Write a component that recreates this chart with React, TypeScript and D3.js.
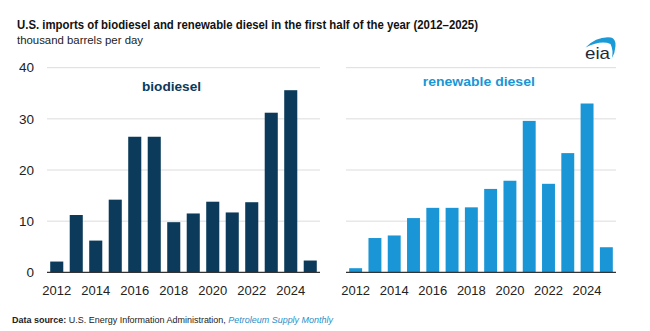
import React from "react";
import * as d3 from "d3";

const years = [2012, 2013, 2014, 2015, 2016, 2017, 2018, 2019, 2020, 2021, 2022, 2023, 2024, 2025];
const biodiesel = [2.1, 11.2, 6.2, 14.2, 26.5, 26.5, 9.8, 11.5, 13.8, 11.7, 13.7, 31.2, 35.6, 2.3];
const renewable = [0.8, 6.7, 7.2, 10.6, 12.6, 12.6, 12.7, 16.3, 17.9, 29.6, 17.3, 23.3, 33.0, 4.9];
const yTicks = [0, 10, 20, 30, 40];
const xTickYears = [2012, 2014, 2016, 2018, 2020, 2022, 2024];

const W = 650;
const H = 331;
const FONT = "'Liberation Sans', Arial, sans-serif";

function Panel({ values, range, color, label, labelX, labelY, labelW, showY }) {
  const y = d3.scaleLinear().domain([0, 40]).range([272.3, 67.7]);
  const x = d3.scaleBand().domain(years.map(String)).range(range).paddingInner(0.33).paddingOuter(0.165);
  return (
    <g>
      {yTicks.filter((t) => t > 0).map((t) => (
        <line key={t} x1={range[0]} x2={range[1]} y1={y(t)} y2={y(t)} stroke="#dcdcdc" strokeWidth={1} />
      ))}
      {showY &&
        yTicks.map((t) => (
          <text key={"yt" + t} x={34} y={y(t)} dy="0.35em" textAnchor="end" fontSize={13.5} fill="#222" fontFamily={FONT}>
            {t}
          </text>
        ))}
      {years.map((yr, i) => (
        <rect key={yr} x={x(String(yr))} width={x.bandwidth()} y={y(values[i])} height={y(0) - y(values[i])} fill={color} />
      ))}
      <line x1={range[0]} x2={range[1]} y1={y(0)} y2={y(0)} stroke="#333" strokeWidth={1.2} />
      {xTickYears.map((yr) => (
        <text key={"xt" + yr} x={x(String(yr)) + x.bandwidth() / 2} y={294.5} textAnchor="middle" fontSize={13} fill="#222" fontFamily={FONT}>
          {yr}
        </text>
      ))}
      <text x={labelX} y={labelY} textAnchor="middle" fontSize={12} fontWeight="bold" fill={color} fontFamily={FONT} textLength={labelW} lengthAdjust="spacingAndGlyphs">
        {label}
      </text>
    </g>
  );
}

export default function App() {
  return (
    <svg width={W} height={H} style={{ position: "absolute", left: 0, top: 0, background: "#fff" }}>
      <rect width={W} height={H} fill="#fff" />
      <text x={17} y={29.3} fontSize={13} fontWeight="bold" fill="#111" fontFamily={FONT} textLength={461} lengthAdjust="spacingAndGlyphs">
        U.S. imports of biodiesel and renewable diesel in the first half of the year (2012–2025)
      </text>
      <text x={17} y={44.3} fontSize={11.5} fill="#222" fontFamily={FONT} textLength={126} lengthAdjust="spacingAndGlyphs">
        thousand barrels per day
      </text>
      <g>
        <path d="M585.5,47.5 Q597,36 611,37.5 Q616,39 615.5,46 Q615,53 612,58 Q613.5,50 610.5,44 Q601,40 585.5,47.5 Z" fill="#1a9ad6" />
        <text x={585} y={58.5} fontSize={17} fill="#1c2b39" fontFamily={FONT} textLength={25} lengthAdjust="spacingAndGlyphs">eia</text>
      </g>
      <Panel values={biodiesel} range={[47, 320]} color="#0b3a5a" label="biodiesel" labelX={171.5} labelY={90.7} labelW={59} showY={true} />
      <Panel values={renewable} range={[346, 616]} color="#1a96d6" label="renewable diesel" labelX={478.8} labelY={86} labelW={112} showY={false} />
      <text x={12} y={323} fontSize={9} fill="#222" fontFamily={FONT} textLength={321} lengthAdjust="spacingAndGlyphs">
        <tspan fontWeight="bold">Data source:</tspan>
        <tspan> U.S. Energy Information Administration, </tspan>
        <tspan fill="#2a8fc8" fontStyle="italic">Petroleum Supply Monthly</tspan>
      </text>
    </svg>
  );
}
